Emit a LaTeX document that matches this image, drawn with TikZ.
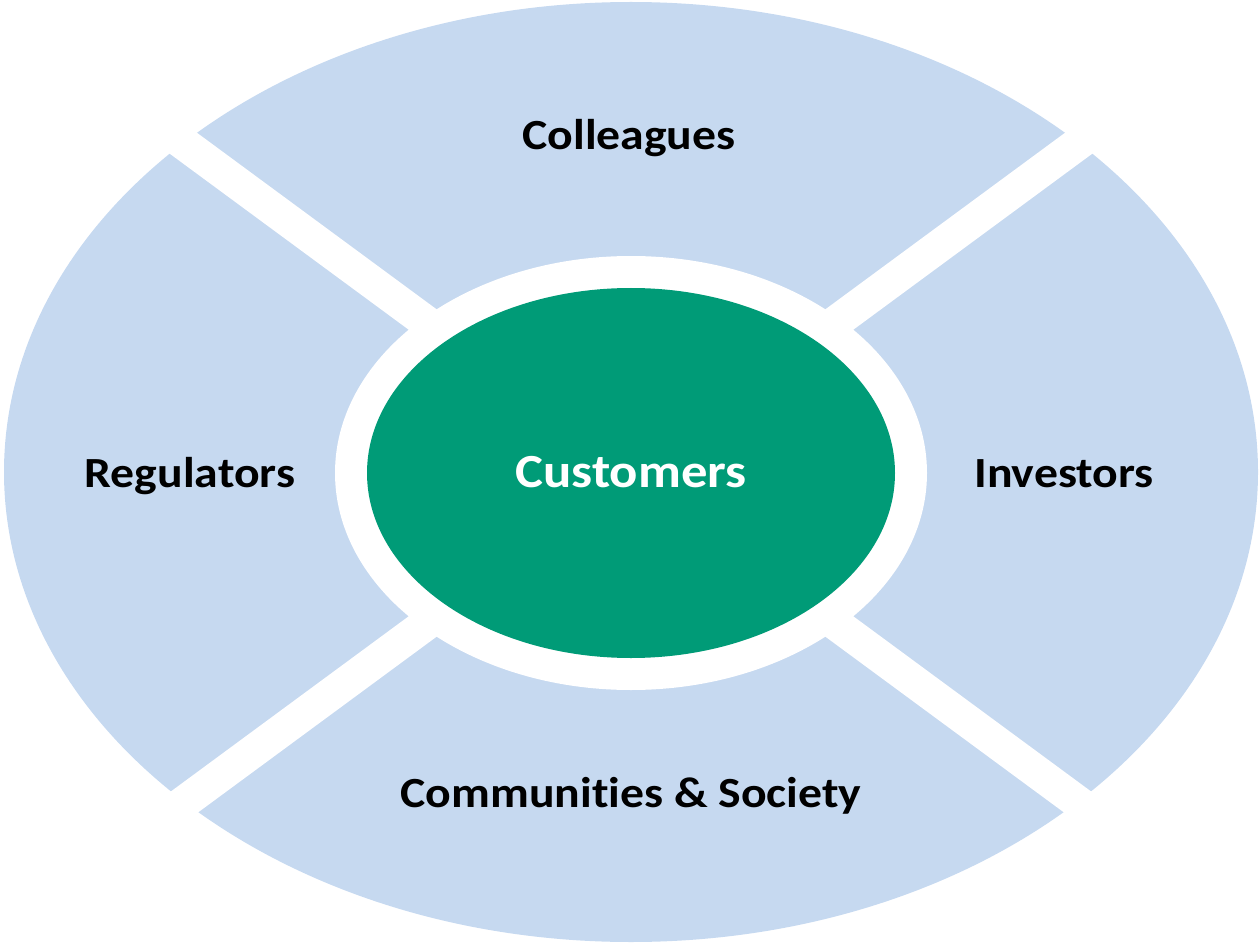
\documentclass[tikz,border=0pt]{standalone}
\usepackage{fontspec}
\setmainfont[Ligatures=NoCommon]{Carlito}
\usetikzlibrary{calc}
\definecolor{ringblue}{HTML}{C6D9F0}
\definecolor{coregreen}{HTML}{009B77}
\begin{document}
\begin{tikzpicture}[x=1pt,y=-1pt,
  lbl/.style={font=\fontsize{43}{50}\selectfont\bfseries, text=black,
    inner sep=0pt, anchor=base, xscale=1.11},
  corelbl/.style={lbl, font=\fontsize{47.5}{54}\selectfont\bfseries, text=white}]
\useasboundingbox (0,0) rectangle (1259,944);
% outer ring of stakeholder segments
\fill[ringblue] (631,472) ellipse [x radius=627, y radius=470];
% white band around the core
\fill[white] (631,473) ellipse [x radius=296, y radius=217];
% white diagonal separators
\coordinate (c) at (631,473);
\draw[white, line width=33pt] ($(c)+(-900,-663)$) -- ($(c)+(900,663)$);
\draw[white, line width=33pt] ($(c)+(-900,663)$) -- ($(c)+(900,-663)$);
% core
\fill[coregreen] (631,473) ellipse [x radius=264, y radius=185];
\node[corelbl] (cust) at (631,487) {Customers};
\node[lbl] (coll) at (629,150) {Colleagues};
\node[lbl] (reg) at (190,487) {Regulators};
\node[lbl] (inv) at (1064,487) {Investors};
\node[lbl] (comm) at (631,807) {Communities \& Society};
\end{tikzpicture}
\end{document}
